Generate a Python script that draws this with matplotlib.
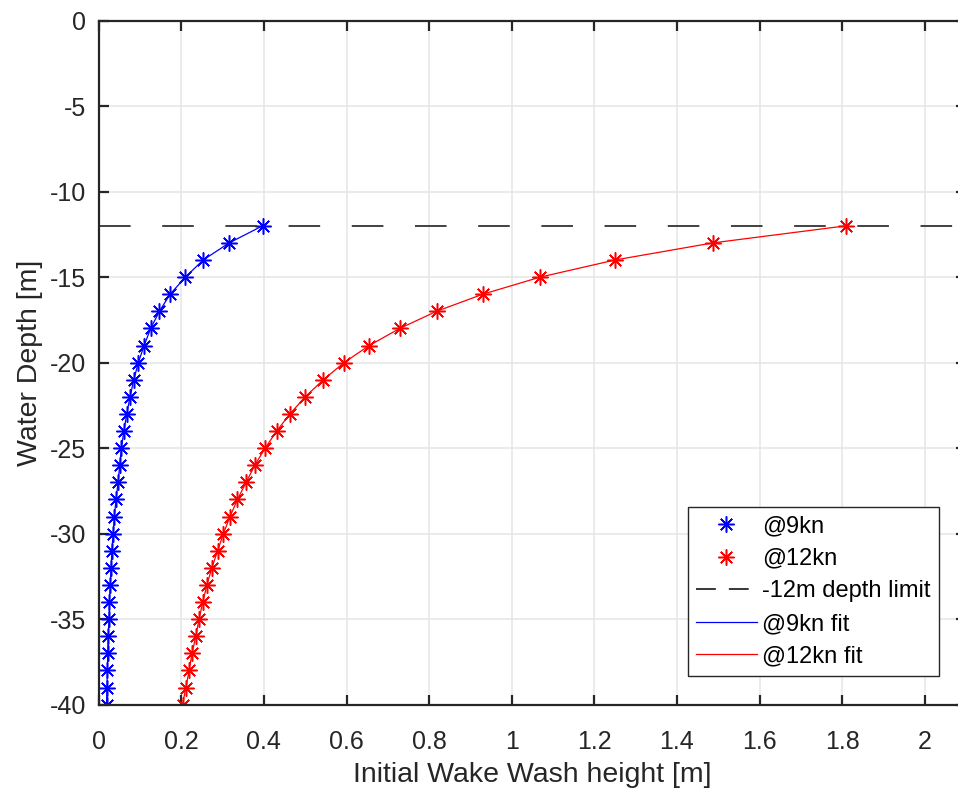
import matplotlib.pyplot as plt
from matplotlib.lines import Line2D
import numpy as np

plt.rcParams['font.family'] = ['Liberation Sans', 'DejaVu Sans']
plt.rcParams['axes.unicode_minus'] = False

# water depth stations [m]
depth = np.arange(-12, -41, -1)

# initial wake wash height at 9 kn [m]
wash_9kn = [0.397, 0.316, 0.253, 0.210, 0.173, 0.147, 0.126, 0.110, 0.096,
            0.085, 0.076, 0.068, 0.061, 0.055, 0.051, 0.047, 0.042, 0.038,
            0.035, 0.032, 0.030, 0.028, 0.026, 0.025, 0.023, 0.022, 0.021,
            0.020, 0.019]

# initial wake wash height at 12 kn [m]
wash_12kn = [1.810, 1.487, 1.250, 1.069, 0.930, 0.818, 0.729, 0.655, 0.594,
             0.544, 0.500, 0.463, 0.431, 0.403, 0.378, 0.357, 0.336, 0.318,
             0.302, 0.288, 0.274, 0.262, 0.252, 0.243, 0.235, 0.226, 0.219,
             0.211, 0.203]

depth_limit = -12
xticks = np.arange(0, 2.01, 0.2)
xticklabels = ['0', '0.2', '0.4', '0.6', '0.8', '1', '1.2', '1.4', '1.6',
               '1.8', '2']
yticks = np.arange(0, -41, -5)

axcol = '#262626'
star = (8, 2, 0)  # asterisk marker

fig = plt.figure(figsize=(9.58, 7.9), dpi=100)
ax = fig.add_axes([0.103, 0.108, 0.9055, 0.866])

ax.plot(wash_9kn, depth, linestyle='none', marker=star, ms=11.5, mew=1.1,
        color='blue')
ax.plot(wash_12kn, depth, linestyle='none', marker=star, ms=11.5, mew=1.1,
        color='red')
ax.axhline(depth_limit, color='#333333', lw=1.3, dashes=(17.5, 17.5))
ax.plot(wash_9kn, depth, color='blue', lw=0.9)
ax.plot(wash_12kn, depth, color='red', lw=0.9)

ax.set_xlim(0, 2.1)
ax.set_ylim(-40, 0)
ax.set_xticks(xticks)
ax.set_xticklabels(xticklabels)
ax.set_yticks(yticks)
ax.grid(True, color='#e5e5e5', lw=1.1)
ax.set_axisbelow(True)

for s in ax.spines.values():
    s.set_color(axcol)
    s.set_linewidth(1.6)
ax.tick_params(direction='in', length=7, width=1.6, colors=axcol,
               labelsize=18, top=True, right=True)
ax.tick_params(axis='x', pad=18)
ax.tick_params(axis='y', pad=9)

ax.set_xlabel('Initial Wake Wash height [m]', fontsize=20.5, color=axcol,
              labelpad=6)
ax.set_ylabel('Water Depth [m]', fontsize=20.5, color=axcol, labelpad=5)

# legend handles: shorter dash pattern for the depth limit entry
handles = [
    Line2D([], [], linestyle='none', marker=star, ms=11.5, mew=1.1, color='blue'),
    Line2D([], [], linestyle='none', marker=star, ms=11.5, mew=1.1, color='red'),
    Line2D([], [], color='black', lw=1.1, dashes=(13, 8.5)),
    Line2D([], [], color='blue', lw=0.9),
    Line2D([], [], color='red', lw=0.9),
]
labels = ['@9kn', '@12kn', '-12m depth limit', '@9kn fit', '@12kn fit']
leg = ax.legend(handles, labels, loc='upper right',
                bbox_to_anchor=(0.969, 0.289), borderaxespad=0, fontsize=17,
                handlelength=2.55, handletextpad=0.25, fancybox=False,
                framealpha=1, edgecolor='#262626', borderpad=0.35,
                labelspacing=0.45)
leg.get_frame().set_linewidth(1.0)

plt.savefig('out.png', dpi=100)
plt.close()
